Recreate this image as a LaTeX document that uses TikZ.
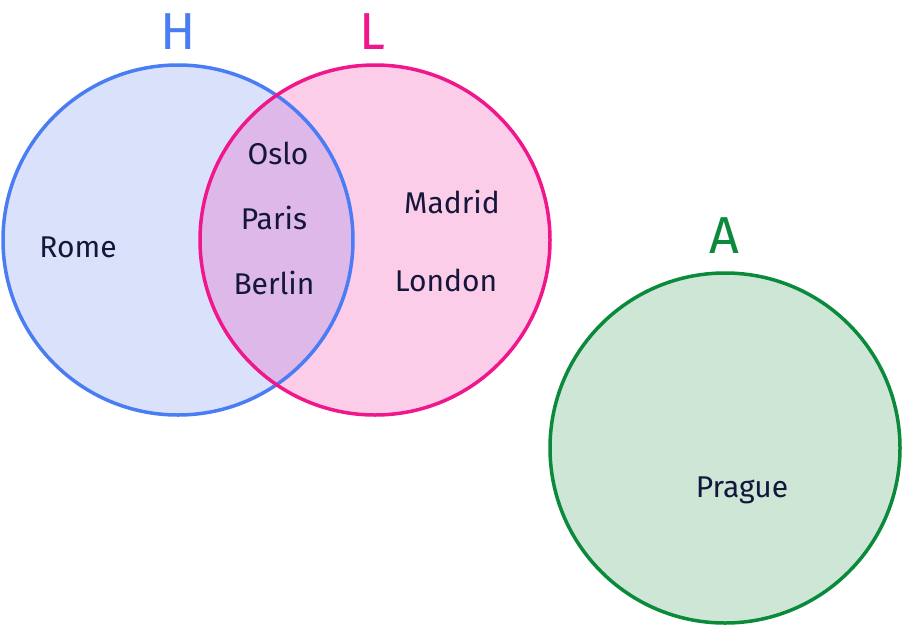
\documentclass[tikz,border=0pt]{standalone}
\usepackage{fontspec}
\setmainfont{Fira Sans}
\definecolor{hb}{HTML}{4A7CF4}\definecolor{hf}{HTML}{DAE2FB}
\definecolor{lp}{HTML}{F0168C}\definecolor{lf}{HTML}{FCCDE9}
\definecolor{ov}{HTML}{DDB8E8}
\definecolor{ag}{HTML}{0A8A3A}\definecolor{af}{HTML}{CDE6D5}
\definecolor{tx}{HTML}{14163A}
\begin{document}
\begin{tikzpicture}[x=1pt,y=-1pt,
  item/.style={text=tx,font=\fontsize{30}{32}\selectfont,inner sep=0pt},
  setlab/.style={font=\fontsize{52}{54}\selectfont,inner sep=0pt}]
\useasboundingbox (0,0) rectangle (904,627);
\fill[hf] (178,240) circle (175);
\fill[lf] (375,240) circle (175);
\begin{scope}
\clip (178,240) circle (175);
\fill[ov] (375,240) circle (175);
\end{scope}
\fill[af] (725,448) circle (175);
\draw[hb,line width=3.5pt] (178,240) circle (175);
\draw[lp,line width=3.5pt] (375,240) circle (175);
\draw[ag,line width=3.5pt] (725,448) circle (175);
\node[setlab,text=hb] (h) at (178,32) {H};
\node[setlab,text=lp] (l) at (372,32) {L};
\node[setlab,text=ag] (a) at (724,236) {A};
\node[item] (rome) at (78,247) {Rome};
\node[item] (oslo) at (278,153) {Oslo};
\node[item] (paris) at (274,218) {Paris};
\node[item] (berlin) at (274,283) {Berlin};
\node[item] (madrid) at (452,202) {Madrid};
\node[item] (london) at (446,280) {London};
\node[item] (prague) at (742,490) {Prague};
\end{tikzpicture}
\end{document}
